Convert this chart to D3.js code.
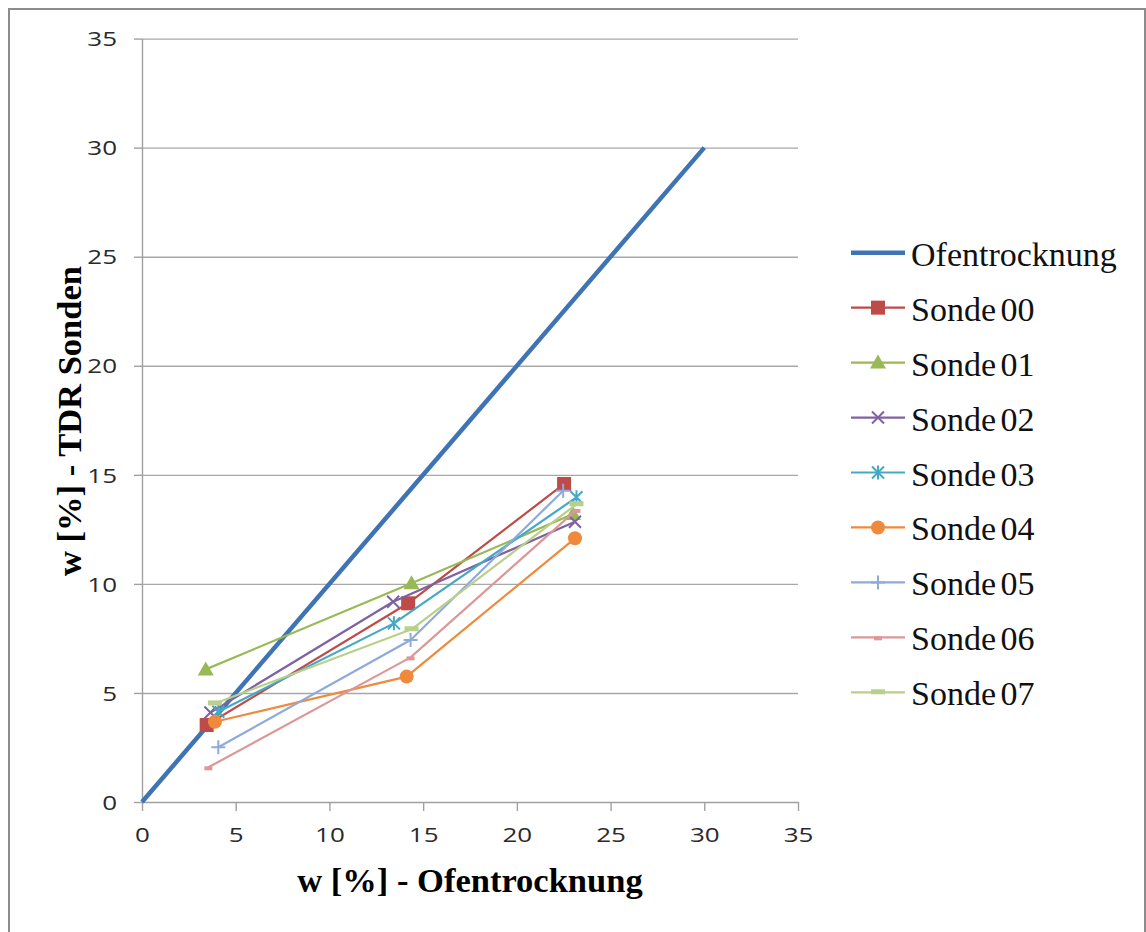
<!DOCTYPE html>
<html>
<head>
<meta charset="utf-8">
<script src="https://cdn.jsdelivr.net/npm/d3@7"></script>
<style>
  html, body { margin: 0; padding: 0; background: #fff; }
  svg { display: block; }
  .axis path, .axis line { stroke: #a0a0a0; stroke-width: 1.4; }
  .grid line { stroke: #a8a8a8; stroke-width: 1.4; }
  .grid path { display: none; }
</style>
</head>
<body>
<div id="chart"></div>
<script>
'use strict';

// tick labels
const xTicks = [0, 5, 10, 15, 20, 25, 30, 35];
const yTicks = [0, 5, 10, 15, 20, 25, 30, 35];

// series names (legend order)
const seriesNames = ["Ofentrocknung", "Sonde 00", "Sonde 01", "Sonde 02", "Sonde 03",
                     "Sonde 04", "Sonde 05", "Sonde 06", "Sonde 07"];

// values: x = w [%] Ofentrocknung, y = w [%] TDR
const ofenX = [0, 30];
const ofenY = [0, 30];
const sonde00X = [3.45, 14.2, 22.52];
const sonde00Y = [3.53, 9.11, 14.58];
const sonde01X = [3.4, 14.38, 23.0];
const sonde01Y = [6.08, 10.03, 13.2];
const sonde02X = [3.65, 13.4, 23.1];
const sonde02Y = [4.1, 9.18, 12.85];
const sonde03X = [4.07, 13.44, 23.18];
const sonde03Y = [4.14, 8.19, 13.97];
const sonde04X = [3.89, 14.12, 23.1];
const sonde04Y = [3.68, 5.75, 12.09];
const sonde05X = [4.07, 14.33, 22.47];
const sonde05Y = [2.51, 7.43, 14.27];
const sonde06X = [3.54, 14.33, 23.18];
const sonde06Y = [1.59, 6.63, 13.39];
const sonde07X = [3.89, 14.38, 23.18];
const sonde07Y = [4.52, 7.92, 13.65];

const xValues = [ofenX, sonde00X, sonde01X, sonde02X, sonde03X, sonde04X, sonde05X, sonde06X, sonde07X];
const yValues = [ofenY, sonde00Y, sonde01Y, sonde02Y, sonde03Y, sonde04Y, sonde05Y, sonde06Y, sonde07Y];

const colors = ["#3f74b4", "#be4b48", "#98b954", "#7e62a1", "#46a9c4",
                "#ef8a3c", "#8eaadb", "#dc9897", "#b8d08a"];
const markers = ["none", "square", "triangle", "x", "star", "circle", "plus", "shortdash", "longdash"];

const width = 1146, height = 932;

const svg = d3.select("#chart").append("svg")
    .attr("width", width)
    .attr("height", height);

// outer frame
svg.append("path")
    .attr("d", "M9,940 L9,9 L1145,9 L1145,940")
    .attr("fill", "none")
    .attr("stroke", "#8c8c8c")
    .attr("stroke-width", 2);

let x = d3.scaleLinear().domain([0, 35]).range([142, 798]);
let y = d3.scaleLinear().domain([0, 35]).range([802, 38.6]);

// horizontal gridlines
svg.append("g")
    .attr("class", "grid")
    .attr("transform", "translate(142,0)")
    .call(d3.axisRight(y).tickValues(yTicks.filter(d => d > 0)).tickSize(798 - 142).tickFormat(""));

svg.append("g")
    .attr("class", "axis y")
    .attr("transform", "translate(142,0)")
    .call(d3.axisLeft(y).tickValues(yTicks).tickSize(8).tickSizeOuter(0));

svg.append("g")
    .attr("class", "axis x")
    .attr("transform", "translate(0,802)")
    .call(d3.axisBottom(x).tickValues(xTicks).tickSize(9).tickSizeOuter(0).tickPadding(14));

// the original tick font is wide, so stretch the labels a bit
const tickStretch = 1.3;
svg.selectAll(".axis text")
    .style("font-family", "'Open Sans', sans-serif")
    .style("font-size", "20px")
    .style("fill", "#2a2a2a")
    .attr("transform", `scale(${tickStretch},1)`);
svg.selectAll(".axis.x text").attr("dy", "0.85em");
svg.selectAll(".axis.y text").attr("dy", "0.36em").attr("x", -25 / tickStretch);

// axis titles
svg.append("text")
    .attr("x", 470)
    .attr("y", 892)
    .attr("text-anchor", "middle")
    .attr("font-family", "'Liberation Serif', 'Times New Roman', serif")
    .attr("font-weight", "bold")
    .attr("font-size", "34.5px")
    .text("w [%] - Ofentrocknung");

svg.append("text")
    .attr("transform", "translate(81,421) rotate(-90)")
    .attr("text-anchor", "middle")
    .attr("font-family", "'Liberation Serif', 'Times New Roman', serif")
    .attr("font-weight", "bold")
    .attr("font-size", "34.5px")
    .text("w [%] - TDR Sonden");

function drawMarker(g, type, color, cx, cy) {
    if (type === "square") {
        g.append("rect").attr("x", cx - 7).attr("y", cy - 7).attr("width", 14).attr("height", 14)
            .attr("fill", color);
    } else if (type === "triangle") {
        g.append("path").attr("d", `M${cx},${cy - 8} L${cx + 8},${cy + 6} L${cx - 8},${cy + 6} Z`)
            .attr("fill", color);
    } else if (type === "circle") {
        g.append("circle").attr("cx", cx).attr("cy", cy).attr("r", 7).attr("fill", color);
    } else if (type === "x") {
        g.append("path").attr("d", `M${cx - 6},${cy - 6} L${cx + 6},${cy + 6} M${cx - 6},${cy + 6} L${cx + 6},${cy - 6}`)
            .attr("stroke", color).attr("stroke-width", 2).attr("fill", "none");
    } else if (type === "star") {
        g.append("path").attr("d", `M${cx - 6},${cy - 6} L${cx + 6},${cy + 6} M${cx - 6},${cy + 6} L${cx + 6},${cy - 6} M${cx},${cy - 7} L${cx},${cy + 7}`)
            .attr("stroke", color).attr("stroke-width", 2).attr("fill", "none");
    } else if (type === "plus") {
        g.append("path").attr("d", `M${cx - 7},${cy} L${cx + 7},${cy} M${cx},${cy - 7} L${cx},${cy + 7}`)
            .attr("stroke", color).attr("stroke-width", 2).attr("fill", "none");
    } else if (type === "shortdash") {
        g.append("rect").attr("x", cx - 4).attr("y", cy - 1).attr("width", 8).attr("height", 4)
            .attr("fill", color);
    } else if (type === "longdash") {
        g.append("rect").attr("x", cx - 7).attr("y", cy - 3).attr("width", 14).attr("height", 5)
            .attr("fill", color);
    }
}

let line = d3.line().x(d => x(d[0])).y(d => y(d[1]));

seriesNames.forEach((name, i) => {
    let pts = xValues[i].map((v, j) => [v, yValues[i][j]]);
    let g = svg.append("g").attr("class", "series");
    g.append("path")
        .datum(pts)
        .attr("d", line)
        .attr("fill", "none")
        .attr("stroke", colors[i])
        .attr("stroke-width", i === 0 ? 4.5 : 2.2)
        .attr("stroke-linejoin", "round");
    pts.forEach(p => drawMarker(g, markers[i], colors[i], x(p[0]), y(p[1])));
});

// legend
let legend = svg.append("g").attr("class", "legend");
seriesNames.forEach((name, i) => {
    let cy = 252.7 + 54.95 * i;
    legend.append("line")
        .attr("x1", 851).attr("x2", 905)
        .attr("y1", cy).attr("y2", cy)
        .attr("stroke", colors[i])
        .attr("stroke-width", i === 0 ? 4.5 : 2.2);
    drawMarker(legend, markers[i], colors[i], 878, cy);
    legend.append("text")
        .attr("x", 911)
        .attr("y", cy + 13)
        .attr("font-family", "'Liberation Serif', 'Times New Roman', serif")
        .attr("font-size", "34px")
        .attr("word-spacing", "-4px")
        .attr("fill", "#111")
        .text(name);
});
</script>
</body>
</html>
